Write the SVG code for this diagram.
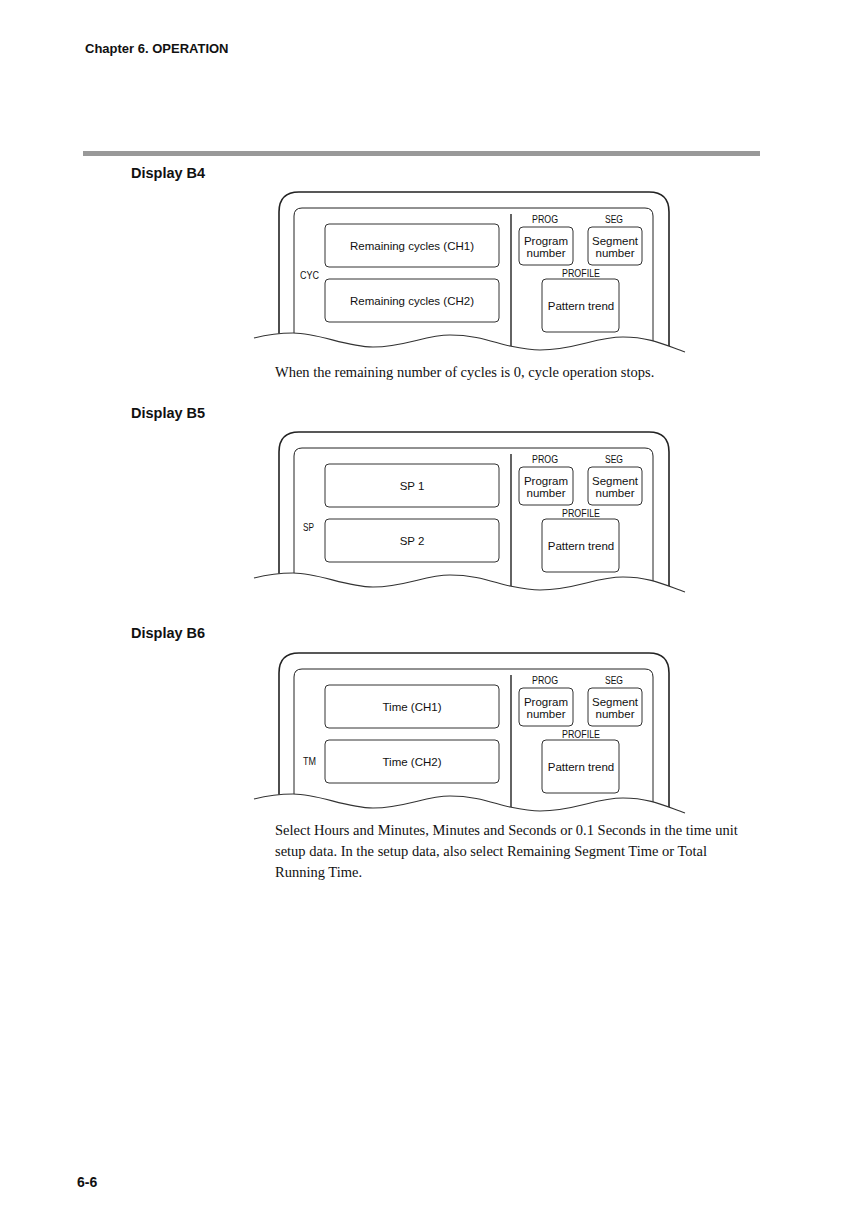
<svg xmlns="http://www.w3.org/2000/svg" xmlns:xlink="http://www.w3.org/1999/xlink" width="867" height="1227" viewBox="0 0 867 1227">
<style>
.hd{font-family:"Liberation Sans",Arial,sans-serif;font-weight:bold;fill:#111}
.bx{fill:none;stroke:#333;stroke-width:1}
.t{font-family:"Liberation Sans",Arial,sans-serif;font-size:11.5px;fill:#111;text-anchor:middle}
.lb{font-family:"Liberation Sans",Arial,sans-serif;font-size:10px;fill:#111;text-anchor:middle}
.ls{font-family:"Liberation Sans",Arial,sans-serif;font-size:10px;fill:#111}
.body{font-family:"Liberation Serif","Times New Roman",serif;font-size:14.5px;fill:#111}
.fr{fill:none;stroke:#222}
</style>
<defs>
<g id="frame">
<path class="fr" stroke-width="1.6" d="M279,345 V212 Q279,192 299,192 H649 Q669,192 669,212 V356"/>
<path class="fr" stroke-width="1" d="M294,345 V216 Q294,208 302,208 H645 Q653,208 653,216 V356"/>
<path class="fr" stroke-width="1.4" d="M511,214 V356"/>
<path fill="#fff" stroke="none" d="M254,338 C270,334 280,333 293,333 C320,333 345,347 373,347 C405,347 425,335 450,335 C478,335 495,343 510,346 C520,348 530,350 540,350 C575,350 595,337 623,337 C650,337 665,345 685,352 L690,365 L250,365 Z"/>
<path fill="none" stroke="#333" stroke-width="1.1" d="M254,338 C270,334 280,333 293,333 C320,333 345,347 373,347 C405,347 425,335 450,335 C478,335 495,343 510,346 C520,348 530,350 540,350 C575,350 595,337 623,337 C650,337 665,345 685,352"/>
<text class="lb" x="545" y="223" textLength="26" lengthAdjust="spacingAndGlyphs">PROG</text>
<text class="lb" x="614" y="223" textLength="18" lengthAdjust="spacingAndGlyphs">SEG</text>
<text class="lb" x="581" y="277" textLength="38" lengthAdjust="spacingAndGlyphs">PROFILE</text>
<rect class="bx" x="519" y="227" width="54" height="38" rx="4"/>
<text class="t" x="546" y="244.5">Program</text>
<text class="t" x="546" y="256.5">number</text>
<rect class="bx" x="588" y="227" width="54" height="38" rx="4"/>
<text class="t" x="615" y="244.5">Segment</text>
<text class="t" x="615" y="256.5">number</text>
<rect class="bx" x="542" y="279" width="77" height="53" rx="4"/>
<text class="t" x="581" y="309.5">Pattern trend</text>
</g>
</defs>

<text class="hd" x="85" y="53" font-size="13">Chapter 6. OPERATION</text>
<rect x="83" y="151" width="677" height="5" fill="#999"/>

<g id="displayB4">
<text class="hd" x="131" y="178" font-size="14.5">Display B4</text>
<use xlink:href="#frame"/>
<g id="b4-ch1"><rect class="bx" x="325" y="224" width="174" height="43" rx="4"/><text class="t" x="412" y="249.5">Remaining cycles (CH1)</text></g>
<g id="b4-ch2"><rect class="bx" x="325" y="279" width="174" height="43" rx="4"/><text class="t" x="412" y="304.5">Remaining cycles (CH2)</text></g>
<text class="ls" x="300" y="279" textLength="19" lengthAdjust="spacingAndGlyphs">CYC</text>
<text class="body" x="275" y="377">When the remaining number of cycles is 0, cycle operation stops.</text>
</g>

<g id="displayB5">
<text class="hd" x="131" y="418" font-size="14.5">Display B5</text>
<use xlink:href="#frame" transform="translate(0,240)"/>
<g id="b5-sp1"><rect class="bx" x="325" y="464" width="174" height="43" rx="4"/><text class="t" x="412" y="490">SP 1</text></g>
<g id="b5-sp2"><rect class="bx" x="325" y="519" width="174" height="43" rx="4"/><text class="t" x="412" y="545">SP 2</text></g>
<text class="ls" x="303" y="531" textLength="11" lengthAdjust="spacingAndGlyphs">SP</text>
</g>

<g id="displayB6">
<text class="hd" x="131" y="638" font-size="14.5">Display B6</text>
<use xlink:href="#frame" transform="translate(0,461)"/>
<g id="b6-ch1"><rect class="bx" x="325" y="685" width="174" height="43" rx="4"/><text class="t" x="412" y="710.5">Time (CH1)</text></g>
<g id="b6-ch2"><rect class="bx" x="325" y="740" width="174" height="43" rx="4"/><text class="t" x="412" y="765.5">Time (CH2)</text></g>
<text class="ls" x="303" y="765" textLength="13" lengthAdjust="spacingAndGlyphs">TM</text>
<text class="body" x="275" y="835">Select Hours and Minutes, Minutes and Seconds or 0.1 Seconds in the time unit</text>
<text class="body" x="275" y="856">setup data. In the setup data, also select Remaining Segment Time or Total</text>
<text class="body" x="275" y="877">Running Time.</text>
</g>

<text class="hd" x="77" y="1187" font-size="14">6-6</text>
</svg>
